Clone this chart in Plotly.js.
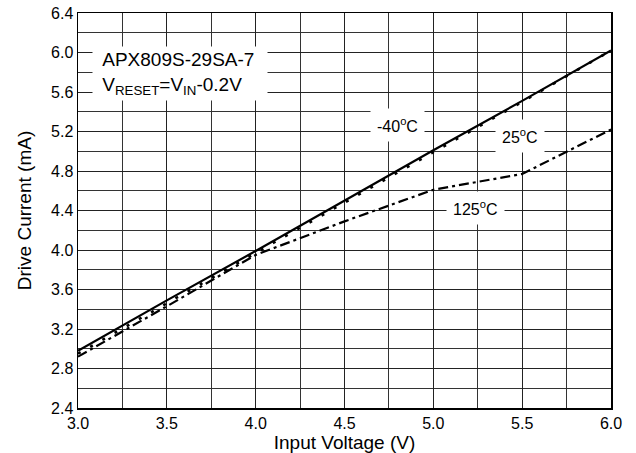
<!DOCTYPE html>
<html>
<head>
<meta charset="utf-8">
<script src="https://cdn.plot.ly/plotly-3.0.1.min.js"></script>
<style>html,body{margin:0;padding:0;background:#fff;}#chart{width:636px;height:453px;}</style>
</head>
<body>
<div id="chart"></div>
<script>
var voltage = [3.0, 3.5, 4.0, 4.5, 5.0, 5.5, 6.0];
var currentM40 = [2.98, 3.49, 3.99, 4.50, 5.01, 5.51, 6.02];
var current25 = [2.95, 3.46, 3.97, 4.48, 4.99, 5.50, 6.02];
var current125 = [2.92, 3.43, 3.95, 4.29, 4.61, 4.77, 5.22];
var xTicks = [3.0, 3.5, 4.0, 4.5, 5.0, 5.5, 6.0];
var xTickLabels = ['3.0', '3.5', '4.0', '4.5', '5.0', '5.5', '6.0'];
var yTicks = [2.4, 2.8, 3.2, 3.6, 4.0, 4.4, 4.8, 5.2, 5.6, 6.0, 6.4];
var yTickLabels = ['2.4', '2.8', '3.2', '3.6', '4.0', '4.4', '4.8', '5.2', '5.6', '6.0', '6.4'];
var seriesLabels = ['-40<sup>o</sup>C', '25<sup>o</sup>C', '125<sup>o</sup>C'];
var noteText = '&nbsp;APX809S-29SA-7<br>&nbsp;V<sub>RESET</sub>=V<sub>IN</sub>-0.2V';

var font = 'Liberation Sans, Arial, sans-serif';
var traces = [
  {x: voltage, y: currentM40, mode: 'lines', line: {color: '#000', width: 2.2, dash: 'solid'}, name: '-40°C'},
  {x: voltage, y: current25, mode: 'lines', line: {color: '#000', width: 2.6, dash: '3px,11px'}, name: '25°C'},
  {x: voltage, y: current125, mode: 'lines', line: {color: '#000', width: 2.2, dash: '10px,4px,3px,4px'}, name: '125°C'}
];
var layout = {
  width: 636, height: 453,
  margin: {l: 78, r: 25, t: 13, b: 45},
  showlegend: false,
  paper_bgcolor: '#fff', plot_bgcolor: '#fff',
  font: {family: font, color: '#000', size: 16},
  xaxis: {
    range: [3.0, 6.0], tickmode: 'array', tickvals: xTicks, ticktext: xTickLabels,
    showgrid: true, gridcolor: '#222', gridwidth: 1,
    minor: {dtick: 0.25, showgrid: true, gridcolor: '#333', gridwidth: 1},
    showline: true, mirror: true, linecolor: '#000', linewidth: 1.5,
    ticks: '', zeroline: false, tickfont: {size: 16, family: font},
    title: {text: 'Input Voltage (V)', font: {size: 19, family: font}, standoff: 2}
  },
  yaxis: {
    range: [2.4, 6.4], tickmode: 'array', tickvals: yTicks, ticktext: yTickLabels,
    showgrid: true, gridcolor: '#222', gridwidth: 1,
    minor: {dtick: 0.2, showgrid: true, gridcolor: '#333', gridwidth: 1},
    showline: true, mirror: true, linecolor: '#000', linewidth: 1.5,
    ticks: '', zeroline: false, tickfont: {size: 16, family: font},
    title: {text: 'Drive Current (mA)', font: {size: 19, family: font}, standoff: 14}
  },
  annotations: [
    {xref: 'paper', yref: 'paper', x: 0.192, y: 0.847, xanchor: 'center', yanchor: 'middle',
     text: noteText, align: 'left', width: 166, height: 45,
     showarrow: false, bgcolor: '#fff', borderpad: 4, font: {size: 19, family: font}},
    {x: 4.80, y: 5.27, text: seriesLabels[0], showarrow: false, bgcolor: '#fff', borderpad: 6, font: {size: 16, family: font}},
    {x: 5.49, y: 5.15, text: seriesLabels[1], showarrow: false, bgcolor: '#fff', borderpad: 6, font: {size: 16, family: font}},
    {x: 5.24, y: 4.43, text: seriesLabels[2], showarrow: false, bgcolor: '#fff', borderpad: 6, font: {size: 16, family: font}}
  ]
};
Plotly.newPlot('chart', traces, layout, {displayModeBar: false, staticPlot: true});
</script>
</body>
</html>
